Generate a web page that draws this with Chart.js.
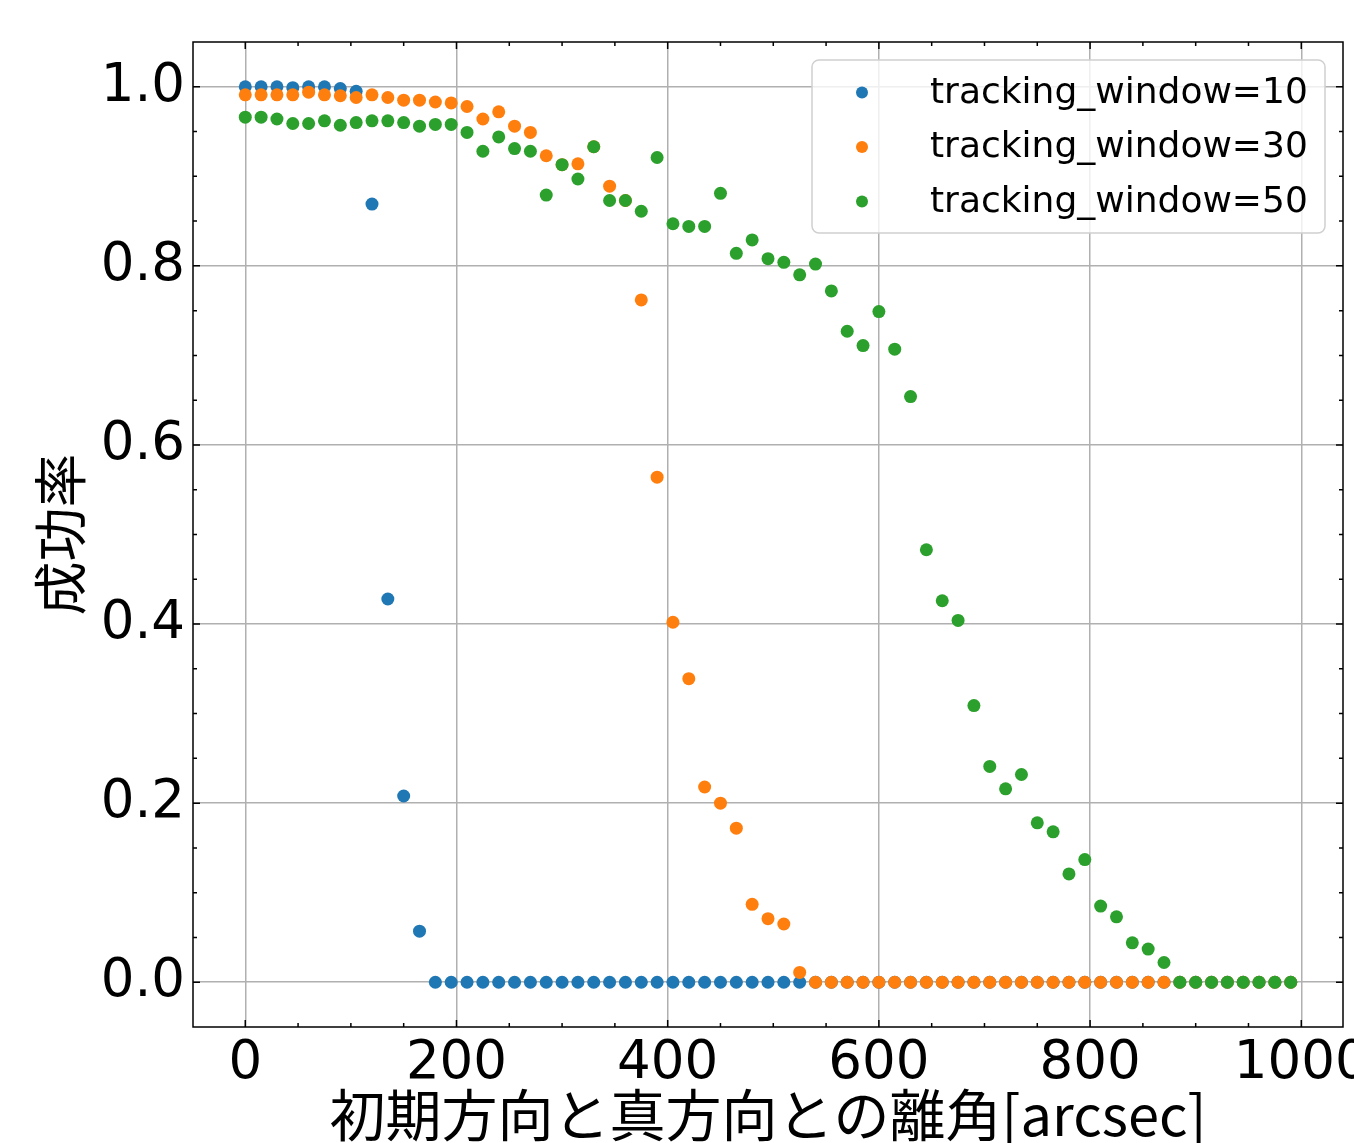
<!DOCTYPE html>
<html lang="ja">

<head>
    <meta charset="UTF-8">
    <title>成功率</title>
    <script src="https://cdn.jsdelivr.net/npm/chart.js"></script>
    <style>
        body {
            margin: 0;
            padding: 0;
            background-color: #fff;
            overflow: hidden;
        }

        canvas {
            display: block;
        }
    </style>
</head>

<body>
    <canvas id="myChart" width="1354" height="1143"></canvas>

    <script>
        // x values (arcsec)
        const angles = [
            0, 15, 30, 45, 60, 75, 90, 105, 120, 135, 150, 165, 180, 195, 210, 225, 240,
            255, 270, 285, 300, 315, 330, 345, 360, 375, 390, 405, 420, 435, 450, 465,
            480, 495, 510, 525, 540, 555, 570, 585, 600, 615, 630, 645, 660, 675, 690,
            705, 720, 735, 750, 765, 780, 795, 810, 825, 840, 855, 870, 885, 900, 915,
            930, 945, 960, 975, 990
        ];

        // success rate, tracking_window=10
        const window10 = [
            1.000, 1.000, 1.000, 0.999, 1.000, 1.000, 0.998, 0.995, 0.869, 0.428, 0.208, 0.057,
            0, 0, 0, 0, 0, 0, 0, 0, 0, 0, 0, 0, 0, 0, 0, 0, 0, 0, 0, 0, 0, 0, 0, 0,
            0, 0, 0, 0, 0, 0, 0, 0, 0, 0, 0, 0, 0, 0, 0, 0, 0, 0, 0, 0, 0, 0, 0, 0,
            0, 0, 0, 0, 0, 0, 0
        ];

        // success rate, tracking_window=30
        const window30 = [
            0.991, 0.991, 0.991, 0.991, 0.994, 0.991, 0.990, 0.988, 0.991, 0.988, 0.985, 0.985,
            0.983, 0.982, 0.978, 0.964, 0.972, 0.956, 0.949, 0.923, 0.913, 0.914, 0.933, 0.889,
            0.873, 0.762, 0.564, 0.402, 0.339, 0.218, 0.200, 0.172, 0.087, 0.071, 0.065, 0.011,
            0, 0, 0, 0, 0, 0, 0, 0, 0, 0, 0, 0, 0, 0, 0, 0, 0, 0, 0, 0, 0, 0, 0, 0,
            0, 0, 0, 0, 0, 0, 0
        ];

        // success rate, tracking_window=50
        const window50 = [
            0.966, 0.966, 0.964, 0.959, 0.959, 0.962, 0.957, 0.960, 0.962, 0.962, 0.960, 0.956,
            0.958, 0.958, 0.949, 0.928, 0.944, 0.931, 0.928, 0.879, 0.913, 0.897, 0.933, 0.873,
            0.873, 0.861, 0.921, 0.847, 0.844, 0.844, 0.881, 0.814, 0.829, 0.808, 0.804, 0.790,
            0.802, 0.772, 0.727, 0.711, 0.749, 0.707, 0.654, 0.483, 0.426, 0.404, 0.309, 0.241,
            0.216, 0.232, 0.178, 0.168, 0.121, 0.137, 0.085, 0.073, 0.044, 0.037, 0.022,
            0, 0, 0, 0, 0, 0, 0, 0
        ];

        const seriesLabels = ['tracking_window=10', 'tracking_window=30', 'tracking_window=50'];
        const seriesColors = ['#1f77b4', '#ff7f0e', '#2ca02c'];

        const tickFont = "'DejaVu Sans', sans-serif";
        const jpFont = "'Noto Sans CJK JP', 'DejaVu Sans', sans-serif";

        function toPoints(values) {
            return angles.map((x, i) => ({ x: x, y: values[i] }));
        }

        // frame + inward ticks on every side (matplotlib style)
        const framePlugin = {
            id: 'frame',
            afterDatasetsDraw(chart) {
                const ctx = chart.ctx;
                const area = chart.chartArea;
                const xs = chart.scales.x;
                const ys = chart.scales.y;
                ctx.save();
                ctx.strokeStyle = '#000';
                ctx.lineWidth = 1.5;

                function xTick(v, len) {
                    const px = xs.getPixelForValue(v);
                    if (px < area.left || px > area.right) return;
                    ctx.beginPath();
                    ctx.moveTo(px, area.bottom);
                    ctx.lineTo(px, area.bottom - len);
                    ctx.moveTo(px, area.top);
                    ctx.lineTo(px, area.top + len);
                    ctx.stroke();
                }

                function yTick(v, len) {
                    const py = ys.getPixelForValue(v);
                    if (py < area.top || py > area.bottom) return;
                    ctx.beginPath();
                    ctx.moveTo(area.left, py);
                    ctx.lineTo(area.left + len, py);
                    ctx.moveTo(area.right, py);
                    ctx.lineTo(area.right - len, py);
                    ctx.stroke();
                }

                for (let v = 0; v <= 1000; v += 50) xTick(v, v % 200 === 0 ? 7 : 4);
                for (let k = 0; k <= 20; k++) yTick(k * 0.05, k % 4 === 0 ? 7 : 4);

                ctx.strokeRect(area.left, area.top, area.right - area.left, area.bottom - area.top);
                ctx.restore();
            }
        };

        // legend box in the upper right corner of the plot
        const legendPlugin = {
            id: 'boxLegend',
            afterDraw(chart) {
                const ctx = chart.ctx;
                const x0 = 812, y0 = 60, w = 513, h = 173, r = 7;
                ctx.save();
                ctx.beginPath();
                ctx.roundRect(x0, y0, w, h, r);
                ctx.fillStyle = 'rgba(255,255,255,0.8)';
                ctx.fill();
                ctx.strokeStyle = '#d0d0d0';
                ctx.lineWidth = 1.5;
                ctx.stroke();

                ctx.font = '36px ' + tickFont;
                ctx.textBaseline = 'alphabetic';
                ctx.textAlign = 'left';
                chart.data.datasets.forEach((ds, i) => {
                    const cy = 92.5 + i * 54.5;
                    ctx.beginPath();
                    ctx.arc(862, cy, 6, 0, Math.PI * 2);
                    ctx.fillStyle = ds.backgroundColor;
                    ctx.fill();
                    ctx.fillStyle = '#000';
                    ctx.fillText(ds.label, 930, cy + 10);
                });
                ctx.restore();
            }
        };

        const ctx = document.getElementById('myChart').getContext('2d');
        new Chart(ctx, {
            type: 'scatter',
            data: {
                datasets: [window10, window30, window50].map((vals, i) => ({
                    label: seriesLabels[i],
                    data: toPoints(vals),
                    backgroundColor: seriesColors[i],
                    borderWidth: 0,
                    pointRadius: 6.5,
                    pointHoverRadius: 6.5,
                    order: 3 - i // later series drawn on top, like matplotlib
                }))
            },
            options: {
                responsive: false,
                animation: false,
                devicePixelRatio: 1,
                events: [],
                layout: {
                    padding: { top: 42, right: 11, bottom: 0, left: 0 }
                },
                plugins: {
                    legend: { display: false },
                    tooltip: { enabled: false }
                },
                scales: {
                    x: {
                        type: 'linear',
                        min: -49.5,
                        max: 1039.5,
                        border: { display: false },
                        grid: { color: '#b0b0b0', lineWidth: 1.5, drawTicks: false },
                        ticks: {
                            stepSize: 200,
                            includeBounds: false,
                            padding: 5,
                            color: '#000',
                            maxRotation: 0,
                            autoSkip: false,
                            font: { family: tickFont, size: 53 },
                            callback: v => String(v)
                        },
                        title: {
                            display: true,
                            text: '初期方向と真方向との離角[arcsec]',
                            color: '#000',
                            font: { family: jpFont, size: 56, lineHeight: 1 },
                            padding: { top: 0, bottom: 0 }
                        },
                        afterFit(s) {
                            s.height = 116;
                            s.paddingLeft = 0;
                            s.paddingRight = 0;
                        }
                    },
                    y: {
                        type: 'linear',
                        min: -0.05,
                        max: 1.05,
                        border: { display: false },
                        grid: { color: '#b0b0b0', lineWidth: 1.5, drawTicks: false },
                        ticks: {
                            stepSize: 0.2,
                            includeBounds: false,
                            padding: 8,
                            color: '#000',
                            font: { family: tickFont, size: 53 },
                            callback: v => v.toFixed(1)
                        },
                        title: {
                            display: true,
                            text: '成功率',
                            color: '#000',
                            font: { family: jpFont, size: 54, lineHeight: 1 },
                            padding: { top: 33, bottom: 0 }
                        },
                        afterFit(s) {
                            s.width = 193;
                            s.paddingTop = 0;
                            s.paddingBottom = 0;
                        }
                    }
                }
            },
            plugins: [framePlugin, legendPlugin]
        });
    </script>

</body>

</html>
